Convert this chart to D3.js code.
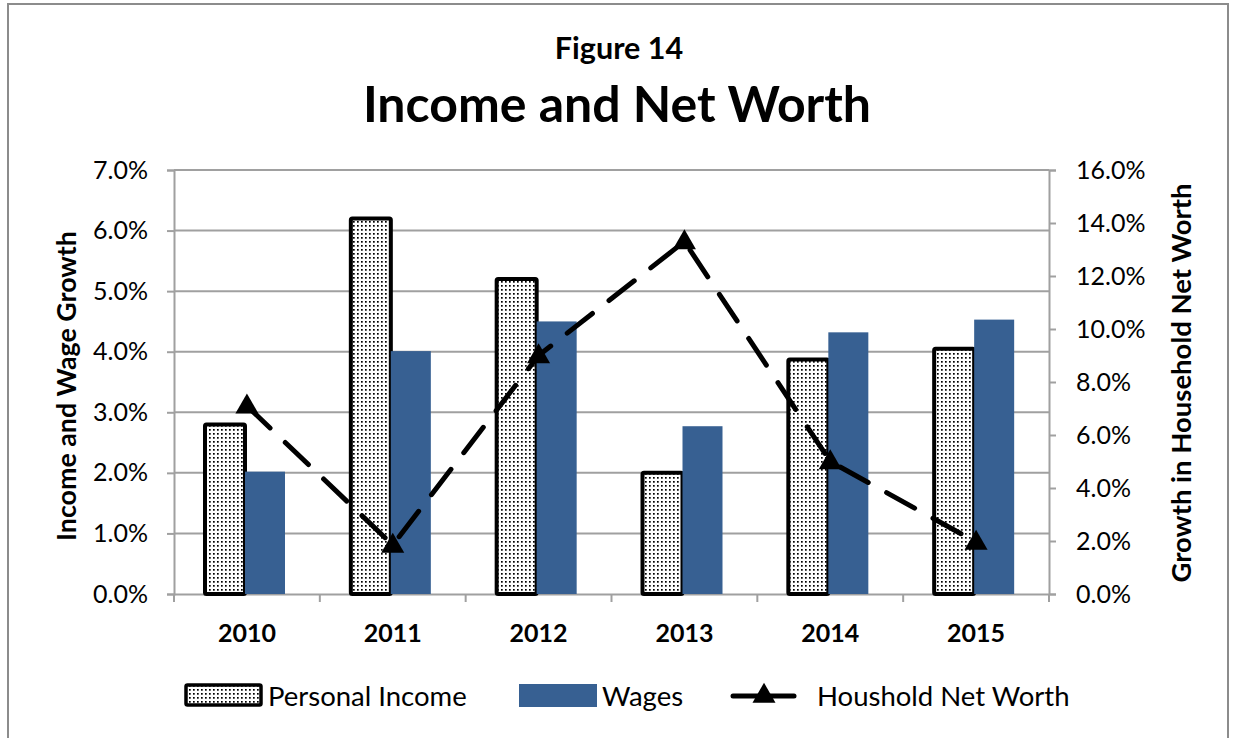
<!DOCTYPE html>
<html><head><meta charset="utf-8">
<script src="https://cdn.jsdelivr.net/npm/d3@7"></script>
<style>body{margin:0;background:#fff}svg{display:block}</style>
</head><body>
<script>
const years = ["2010","2011","2012","2013","2014","2015"];
const personalIncome = [2.8, 6.2, 5.2, 2.0, 3.87, 4.05];
const wages = [2.02, 4.01, 4.5, 2.77, 4.32, 4.53];
const netWorth = [7.1, 1.85, 9.0, 13.3, 5.0, 1.96];
const leftTicks = [0,1,2,3,4,5,6,7];
const rightTicks = [0,2,4,6,8,10,12,14,16];
const seriesNames = ["Personal Income","Wages","Houshold Net Worth"];

const W=1233,H=738;
const font="Lato, 'Open Sans', sans-serif";
const svg=d3.select("body").append("svg").attr("width",W).attr("height",H);
const defs=svg.append("defs");
const pat=defs.append("pattern").attr("id","dots").attr("patternUnits","userSpaceOnUse").attr("width",4).attr("height",4);
pat.append("rect").attr("width",4).attr("height",4).attr("fill","#fff");
pat.append("rect").attr("x",1).attr("y",1).attr("width",1.7).attr("height",1.7).attr("fill","#000");

svg.append("rect").attr("x",8).attr("y",4).attr("width",1220).attr("height",760).attr("fill","none").attr("stroke","#8c8c8c").attr("stroke-width",2);

const L=174,R=1049,T=170,B=594;
const x=d3.scaleBand().domain(years).range([L,R]).paddingInner(0).paddingOuter(0);
const yL=d3.scaleLinear().domain([0,7]).range([B,T]);
const yR=d3.scaleLinear().domain([0,16]).range([B,T]);
const grid="#a0a0a0";

// gridlines
svg.append("g").selectAll("line").data(leftTicks.slice(1)).join("line")
  .attr("x1",L).attr("x2",R).attr("y1",d=>yL(d)).attr("y2",d=>yL(d)).attr("stroke",grid).attr("stroke-width",2);

// axes
const axL=svg.append("g").attr("transform",`translate(${L},0)`).call(d3.axisLeft(yL).tickValues(leftTicks).tickFormat(d=>d.toFixed(1)+"%").tickSize(7).tickPadding(19));
const axR=svg.append("g").attr("transform",`translate(${R},0)`).call(d3.axisRight(yR).tickValues(rightTicks).tickFormat(d=>d.toFixed(1)+"%").tickSize(7).tickPadding(20));
const axB=svg.append("g").attr("transform",`translate(0,${B})`).call(d3.axisBottom(x).tickSize(0).tickPadding(30));
svg.append("g").selectAll("line").data(d3.range(years.length+1)).join("line")
  .attr("x1",i=>L+i*x.step()).attr("x2",i=>L+i*x.step()).attr("y1",B).attr("y2",B+8).attr("stroke",grid).attr("stroke-width",2);
[axL,axR,axB].forEach(a=>{a.selectAll("path.domain").attr("stroke",grid).attr("stroke-width",2);a.selectAll("line").attr("stroke",grid).attr("stroke-width",2);});
axL.selectAll("text").attr("font-family",font).attr("font-size",25).attr("fill","#000");
axR.selectAll("text").attr("font-family",font).attr("font-size",25).attr("fill","#000");
axB.selectAll("text").attr("font-family",font).attr("font-size",25).attr("font-weight","bold").attr("fill","#000");

// bars
const bw=40, off=31;
svg.append("g").selectAll("rect").data(personalIncome).join("rect")
  .attr("x",(d,i)=>x(years[i])+off).attr("width",bw).attr("y",d=>yL(d)).attr("height",d=>B-yL(d))
  .attr("fill","url(#dots)").attr("stroke","#000").attr("stroke-width",4).attr("rx",1.5);
svg.append("g").selectAll("rect").data(wages).join("rect")
  .attr("x",(d,i)=>x(years[i])+off+bw).attr("width",bw).attr("y",d=>yL(d)).attr("height",d=>B-yL(d))
  .attr("fill","#376092");

// line
const cx=i=>x(years[i])+x.bandwidth()/2;
const line=d3.line().x((d,i)=>cx(i)).y(d=>yR(d));
svg.append("path").datum(netWorth).attr("d",line).attr("fill","none").attr("stroke","#000")
  .attr("stroke-width",5).attr("stroke-dasharray","32,21").attr("stroke-linecap","round").attr("stroke-linejoin","round");
const tri=d3.symbol().type(d3.symbolTriangle).size(230);
svg.append("g").selectAll("path").data(netWorth).join("path")
  .attr("transform",(d,i)=>`translate(${cx(i)},${yR(d)+1})`).attr("d",tri).attr("fill","#000");

// titles
svg.append("text").attr("x",619).attr("y",59).attr("text-anchor","middle").attr("font-family",font).attr("font-weight","bold").attr("font-size",30.5).text("Figure 14");
svg.append("text").attr("x",617).attr("y",122).attr("text-anchor","middle").attr("font-family",font).attr("font-weight","bold").attr("font-size",50).text("Income and Net Worth");
svg.append("text").attr("transform",`translate(76,386) rotate(-90)`).attr("text-anchor","middle").attr("font-family",font).attr("font-weight","bold").attr("font-size",26.8).text("Income and Wage Growth");
svg.append("text").attr("transform",`translate(1191,383) rotate(-90)`).attr("text-anchor","middle").attr("font-family",font).attr("font-weight","bold").attr("font-size",27.5).text("Growth in Household Net Worth");

// legend
const lg=svg.append("g").attr("font-family",font).attr("font-size",27.5);
lg.append("rect").attr("x",186).attr("y",685).attr("width",75).attr("height",20).attr("fill","url(#dots)").attr("stroke","#000").attr("stroke-width",3.5).attr("rx",1.5);
lg.append("text").attr("x",268).attr("y",706).text(seriesNames[0]);
lg.append("rect").attr("x",519).attr("y",684).attr("width",78).attr("height",23).attr("fill","#376092");
lg.append("text").attr("x",602).attr("y",706).text(seriesNames[1]);
lg.append("line").attr("x1",733).attr("x2",794).attr("y1",696).attr("y2",696).attr("stroke","#000").attr("stroke-width",5).attr("stroke-linecap","round");
lg.append("path").attr("transform","translate(764,696)").attr("d",tri).attr("fill","#000");
lg.append("text").attr("x",817).attr("y",706).text(seriesNames[2]);
</script>
</body></html>
